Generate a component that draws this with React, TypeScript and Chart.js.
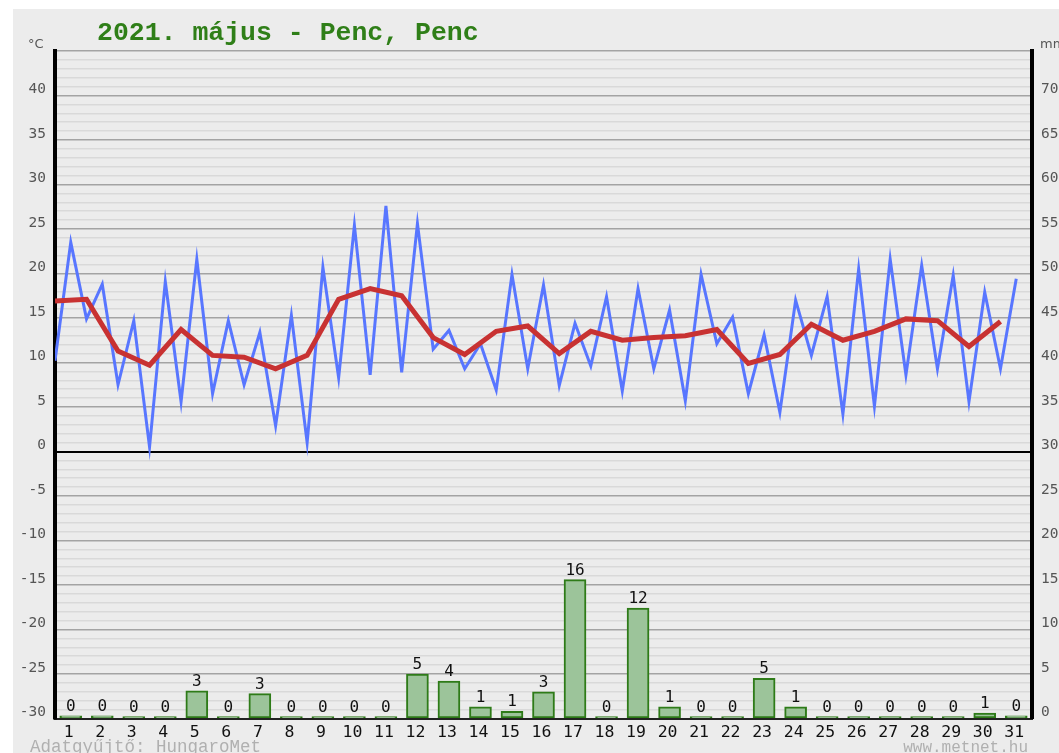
import React, { useEffect, useRef } from 'react';
import { Chart, registerables } from 'chart.js';

Chart.register(...registerables);

// ---- data ----
const days = [1, 2, 3, 4, 5, 6, 7, 8, 9, 10, 11, 12, 13, 14, 15, 16, 17, 18, 19, 20, 21, 22, 23, 24, 25, 26, 27, 28, 29, 30, 31];

// half-daily temperature readings (°C): first at start of day 1, then alternating midday / midnight
const tempHalfDaily = [
  10.2, 23.5, 14.9, 18.8, 7.5, 14.7, 0.5, 19.1, 5.6, 21.6,
  6.5, 14.7, 7.5, 13.4, 2.9, 15.3, 1.0, 20.7, 8.3, 25.4,
  8.6, 27.6, 8.9, 25.6, 11.5, 13.6, 9.3, 12.1, 6.9, 19.9,
  9.3, 18.7, 7.4, 14.4, 9.6, 17.4, 6.8, 18.3, 9.3, 15.9,
  5.7, 19.9, 12.1, 15.1, 6.5, 13.1, 4.4, 17.0, 10.8, 17.4,
  4.2, 20.5, 5.1, 21.6, 8.6, 20.9, 9.3, 19.8, 5.6, 17.9,
  9.3, 19.4,
];

// daily mean temperature (°C)
const dailyMean = [
  16.9, 17.1, 11.3, 9.7, 13.7, 10.8, 10.6, 9.3, 10.8, 17.1,
  18.3, 17.5, 12.8, 10.9, 13.5, 14.1, 11.0, 13.5, 12.5, 12.8,
  13.0, 13.7, 9.9, 10.9, 14.3, 12.5, 13.5, 14.9, 14.7, 11.8,
  14.6,
];

// daily precipitation (mm)
const precip = [
  0.3, 0.3, 0, 0, 3.1, 0, 2.8, 0, 0, 0,
  0, 5.0, 4.2, 1.3, 0.8, 3.0, 15.6, 0, 12.4, 1.3,
  0, 0, 4.5, 1.3, 0, 0, 0, 0, 0, 0.6,
  0.3,
];

const leftTicks = [-30, -25, -20, -15, -10, -5, 0, 5, 10, 15, 20, 25, 30, 35, 40];
const rightTicks = [0, 5, 10, 15, 20, 25, 30, 35, 40, 45, 50, 55, 60, 65, 70];

const titleText = '2021. május - Penc, Penc';
const leftUnit = '°C';
const rightUnit = 'mm';
const footerLeft = 'Adatgyűjtő: HungaroMet';
const footerRight = 'www.metnet.hu';

const decoPlugin = {
  id: 'deco',
  beforeDraw(chart: any) {
    const { ctx, width, height } = chart;
    ctx.save();
    ctx.fillStyle = '#ffffff';
    ctx.fillRect(0, 0, width, height);
    ctx.fillStyle = '#ececec';
    ctx.fillRect(13, 9, width - 13, height - 9);
    ctx.restore();
  },
  afterDatasetsDraw(chart: any) {
    const { ctx } = chart;
    const meta = chart.getDatasetMeta(2);
    ctx.save();
    ctx.font = '16px "DejaVu Sans Mono"';
    ctx.fillStyle = '#111111';
    ctx.textAlign = 'center';
    ctx.textBaseline = 'alphabetic';
    meta.data.forEach((el: any, i: number) => {
      ctx.fillText(String(Math.round(precip[i])), el.x, el.y - 5);
    });
    ctx.restore();
  },
  afterDraw(chart: any) {
    const { ctx, chartArea } = chart;
    ctx.save();
    ctx.textBaseline = 'alphabetic';
    ctx.textAlign = 'left';
    ctx.fillStyle = '#2f7f18';
    ctx.font = 'bold 26.5px "Liberation Mono"';
    ctx.fillText(titleText, 97, 39.5);

    ctx.fillStyle = '#555555';
    ctx.font = '13px "DejaVu Sans"';
    ctx.fillText(leftUnit, 28, 48);
    ctx.fillText(rightUnit, chartArea.right + 8, 48);

    ctx.fillStyle = '#b0b0b0';
    ctx.font = '17.5px "Liberation Mono"';
    ctx.fillText(footerLeft, 30, 752);
    ctx.textAlign = 'right';
    ctx.font = '16px "Liberation Mono"';
    ctx.fillText(footerRight, 1028, 752);
    ctx.restore();
  },
};

export default function App() {
  const ref = useRef<HTMLCanvasElement | null>(null);

  useEffect(() => {
    if (!ref.current) return;
    const tempPoints = tempHalfDaily.map((v, k) => ({ x: 0.5 + k * 0.5, y: v }));
    const meanPoints = dailyMean.map((v, j) => ({ x: days[j] - 0.5, y: v }));
    const barPoints = precip.map((v, i) => ({ x: days[i], y: v }));

    const chart = new Chart(ref.current, {
      type: 'line',
      data: {
        datasets: [
          {
            type: 'line',
            data: meanPoints,
            borderColor: 'rgb(200,50,50)',
            borderWidth: 5,
            pointRadius: 0,
            tension: 0,
            yAxisID: 'y',
            xAxisID: 'x',
            order: 0,
          } as any,
          {
            type: 'line',
            data: tempPoints,
            borderColor: 'rgb(88,118,255)',
            borderWidth: 3,
            pointRadius: 0,
            tension: 0,
            yAxisID: 'y',
            xAxisID: 'x',
            order: 1,
          } as any,
          {
            type: 'bar',
            data: barPoints,
            backgroundColor: '#9cc49a',
            borderColor: '#2e7b18',
            borderWidth: 2,
            borderSkipped: false,
            barThickness: 22,
            minBarLength: 2,
            yAxisID: 'y1',
            xAxisID: 'x',
            order: 2,
          } as any,
        ],
      },
      options: {
        responsive: false,
        animation: false,
        events: [],
        layout: { padding: { top: 51, left: 0, right: 0, bottom: 0 } },
        plugins: {
          legend: { display: false },
          tooltip: { enabled: false },
          title: { display: false },
        },
        scales: {
          x: {
            type: 'linear',
            min: 0.5,
            max: 31.5,
            offset: false,
            afterBuildTicks: (s: any) => {
              s.ticks = days.map((d) => ({ value: d }));
            },
            afterFit: (s: any) => {
              s.height = 34.5;
            },
            grid: { display: false, drawTicks: false },
            border: { display: true, color: '#222222', width: 2 },
            ticks: {
              autoSkip: false,
              maxRotation: 0,
              padding: 4,
              labelOffset: -2,
              color: '#111111',
              font: { family: '"DejaVu Sans Mono"', size: 16.5 },
              callback: (v: any) => String(v),
            },
          },
          y: {
            type: 'linear',
            position: 'left',
            min: -30,
            max: 45,
            afterBuildTicks: (s: any) => {
              const t: any[] = [];
              for (let v = -30; v <= 45; v++) t.push({ value: v });
              s.ticks = t;
            },
            afterFit: (s: any) => {
              s.width = 55;
            },
            grid: {
              drawTicks: false,
              color: (c: any) => {
                const v = Math.round(c.tick ? c.tick.value : 1);
                if (v === 0) return '#000000';
                if (v % 5 === 0) return '#a3a3a3';
                return '#d9d9d9';
              },
              lineWidth: (c: any) => {
                const v = Math.round(c.tick ? c.tick.value : 1);
                if (v === 0) return 2;
                if (v % 5 === 0) return 1.5;
                return 1.5;
              },
            },
            border: { display: true, color: '#000000', width: 4 },
            ticks: {
              autoSkip: false,
              padding: 9,
              labelOffset: -6,
              color: '#555555',
              font: { family: '"DejaVu Sans Mono"', size: 14.5 },
              callback: (v: any) => {
                const r = Math.round(v);
                return leftTicks.includes(r) ? String(r) : '';
              },
            },
          },
          y1: {
            type: 'linear',
            position: 'right',
            min: 0,
            max: 75,
            afterBuildTicks: (s: any) => {
              s.ticks = rightTicks.map((v) => ({ value: v }));
            },
            afterFit: (s: any) => {
              s.width = 27;
            },
            grid: { drawOnChartArea: false, drawTicks: false },
            border: { display: true, color: '#000000', width: 4 },
            ticks: {
              autoSkip: false,
              padding: 9,
              labelOffset: -6,
              color: '#555555',
              font: { family: '"DejaVu Sans Mono"', size: 14.5 },
              callback: (v: any) => String(Math.round(v)),
            },
          },
        },
      } as any,
      plugins: [decoPlugin],
    });
    return () => chart.destroy();
  }, []);

  return (
    <div style={{ position: 'absolute', left: 0, top: 0, width: 1059, height: 753 }}>
      <canvas ref={ref} width={1059} height={753} style={{ width: 1059, height: 753, display: 'block' }} />
    </div>
  );
}
